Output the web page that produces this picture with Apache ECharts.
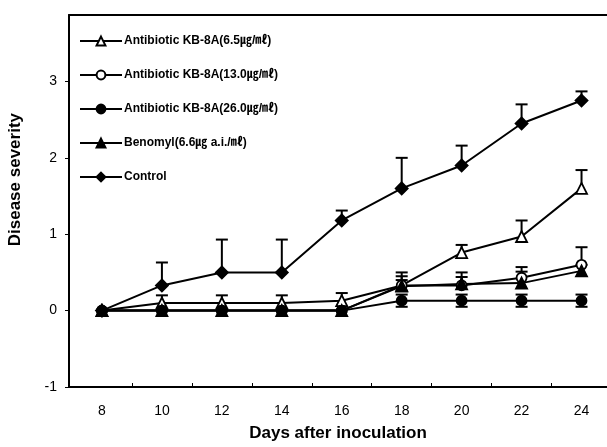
<!DOCTYPE html>
<html><head><meta charset="utf-8">
<script src="https://cdn.jsdelivr.net/npm/echarts@6/dist/echarts.min.js"></script>
<style>html,body{margin:0;padding:0;background:#fff}#c{width:607px;height:447px}</style>
</head><body><div id="c"></div>
<script>
const days = [8, 10, 12, 14, 16, 18, 20, 22, 24];
const xTickLabels = [8, 10, 12, 14, 16, 18, 20, 22, 24];
const xMinorTicks = [9, 11, 13, 15, 17, 19, 21, 23];
const yTickLabels = [-1, 0, 1, 2, 3];
const seriesNames = [
  'Antibiotic KB-8A(6.5㎍/㎖)',
  'Antibiotic KB-8A(13.0㎍/㎖)',
  'Antibiotic KB-8A(26.0㎍/㎖)',
  'Benomyl(6.6㎍ a.i./㎖)',
  'Control'
];
const kb65 = [0, 0.1, 0.1, 0.1, 0.13, 0.33, 0.76, 0.97, 1.6];
const kb65Err = [0, 0.1, 0.1, 0.1, 0.1, 0.17, 0.1, 0.21, 0.24];
const kb13 = [0, 0, 0, 0, 0, 0.33, 0.33, 0.43, 0.6];
const kb13Err = [0, 0, 0, 0, 0, 0.12, 0.17, 0.14, 0.23];
const kb26 = [0, 0, 0, 0, 0, 0.13, 0.13, 0.13, 0.13];
const kb26Err = [0, 0, 0, 0, 0, 0.08, 0.08, 0.08, 0.08];
const benomyl = [0, 0, 0, 0, 0, 0.32, 0.35, 0.36, 0.52];
const benomylErr = [0, 0, 0, 0, 0, 0.08, 0.09, 0.15, 0.08];
const control = [0, 0.33, 0.5, 0.5, 1.18, 1.6, 1.9, 2.45, 2.75];
const controlErr = [0, 0.3, 0.43, 0.43, 0.13, 0.4, 0.26, 0.25, 0.12];

const FONT = '"Liberation Sans", Arial, "Noto Sans CJK KR", sans-serif';
const chart = echarts.init(document.getElementById('c'));

function pairs(vals) { return days.map((d, i) => [d, vals[i]]); }
function errData(vals, errs) { return days.map((d, i) => [d, vals[i], errs[i]]); }

function errSeries(vals, errs, twoSided) {
  return {
    type: 'custom', z: 1, silent: true,
    data: errData(vals, errs),
    renderItem: function (params, api) {
      const x = api.value(0), y = api.value(1), e = api.value(2);
      if (!e) return { type: 'group', children: [] };
      const p = api.coord([x, y]);
      const t = api.coord([x, y + e]);
      const st = { stroke: '#000', lineWidth: 2 };
      const ch = [
        { type: 'line', shape: { x1: p[0], y1: p[1], x2: t[0], y2: t[1] }, style: st },
        { type: 'line', shape: { x1: t[0] - 6, y1: t[1], x2: t[0] + 6, y2: t[1] }, style: st }
      ];
      if (twoSided) {
        const b = api.coord([x, y - e]);
        ch.push({ type: 'line', shape: { x1: p[0], y1: p[1], x2: b[0], y2: b[1] }, style: st });
        ch.push({ type: 'line', shape: { x1: b[0] - 6, y1: b[1], x2: b[0] + 6, y2: b[1] }, style: st });
      }
      return { type: 'group', children: ch };
    }
  };
}

function lineSeries(name, vals, symbol, size, fill) {
  return {
    name: name, type: 'line', z: 3, data: pairs(vals),
    symbol: symbol, symbolSize: size, showAllSymbol: true,
    lineStyle: { color: '#000', width: 2 },
    itemStyle: { color: fill, borderColor: '#000', borderWidth: 1.8 },
    emphasis: { disabled: true }
  };
}

const option = {
  animation: false,
  backgroundColor: '#fff',
  grid: { left: 69, right: 0, top: 15, bottom: 58 },
  xAxis: [{
    type: 'value', min: 6.9, max: 24.85,
    axisLine: { show: true, onZero: false, lineStyle: { color: '#000', width: 2 } },
    axisTick: { show: true, inside: true, length: 4, customValues: xMinorTicks, lineStyle: { color: '#000' } },
    axisLabel: { customValues: xTickLabels, color: '#000', fontSize: 14, fontFamily: FONT, margin: 17 },
    splitLine: { show: false },
    name: 'Days after inoculation', nameLocation: 'middle', nameGap: 38,
    nameTextStyle: { color: '#000', fontSize: 17, fontWeight: 'bold', fontFamily: FONT }
  }, {
    type: 'value', position: 'top', min: 6.9, max: 24.85,
    axisLine: { show: true, onZero: false, lineStyle: { color: '#000', width: 2 } },
    axisTick: { show: false }, axisLabel: { show: false }, splitLine: { show: false }
  }],
  yAxis: {
    type: 'value', min: -1, max: 3.87,
    axisLine: { show: true, lineStyle: { color: '#000', width: 2 } },
    axisTick: { show: true, length: 4, customValues: yTickLabels, lineStyle: { color: '#000' } },
    axisLabel: { customValues: yTickLabels, color: '#000', fontSize: 14, fontFamily: FONT, margin: 12 },
    splitLine: { show: false }
  },
  graphic: [{
    type: 'text', left: 7, top: 113, rotation: Math.PI / 2,
    style: { text: 'Disease severity', fill: '#000', font: 'bold 17px ' + FONT }
  }],
  legend: {
    orient: 'vertical', left: 74, top: 30, itemGap: 22,
    itemWidth: 42, itemHeight: 11,
    textStyle: { color: '#000', fontSize: 12, fontWeight: 'bold', fontFamily: FONT, padding: [0, 0, 0, -3] },
    data: seriesNames
  },
  series: [
    errSeries(kb65, kb65Err, false),
    errSeries(kb13, kb13Err, false),
    errSeries(kb26, kb26Err, true),
    errSeries(benomyl, benomylErr, false),
    errSeries(control, controlErr, false),
    lineSeries(seriesNames[0], kb65, 'triangle', 11, '#fff'),
    lineSeries(seriesNames[1], kb13, 'circle', 10, '#fff'),
    lineSeries(seriesNames[2], kb26, 'circle', 10, '#000'),
    lineSeries(seriesNames[3], benomyl, 'triangle', 11, '#000'),
    lineSeries(seriesNames[4], control, 'diamond', 12, '#000')
  ]
};
chart.setOption(option);
</script></body></html>
